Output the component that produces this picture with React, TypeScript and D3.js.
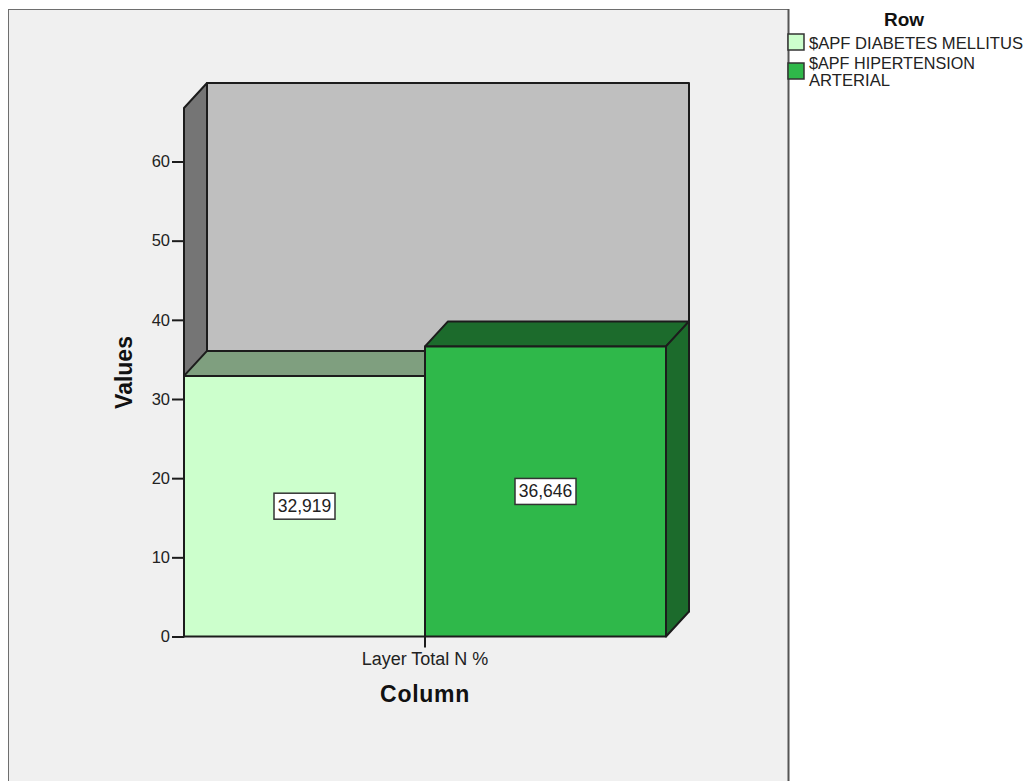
import React, { useEffect, useRef } from 'react';
import * as d3 from 'd3';

const seriesNames = ['$APF DIABETES MELLITUS', '$APF HIPERTENSION ARTERIAL'];
const legendLines = [['$APF DIABETES MELLITUS'], ['$APF HIPERTENSION', 'ARTERIAL']];
const seriesValues = [32.919, 36.646];
const valueLabels = ['32,919', '36,646'];
const yTicks = [0, 10, 20, 30, 40, 50, 60];
const categoryLabel = 'Layer Total N %';

const frontColors = ['#ccffcc', '#2fb84a'];
const topColors = ['#7f9f7f', '#1c6b2c'];
const sideColors = ['#7f9f7f', '#1c6b2c'];

const FONT = '"Liberation Sans", Arial, sans-serif';
const LINE = '#1c1c1c';

function App(): JSX.Element {
  const svgRef = useRef() as React.RefObject<SVGSVGElement>;

  useEffect(() => {
    const svg = d3.select(svgRef.current);
    svg.selectAll('*').remove();

    // chart panel
    svg.append('rect').attr('width', 1027).attr('height', 781).attr('fill', '#ffffff');
    svg.append('rect')
      .attr('x', 8.5).attr('y', 9.5).attr('width', 780).attr('height', 790)
      .attr('fill', '#f0f0f0').attr('stroke', '#6e6e6e').attr('stroke-width', 1);
    svg.append('line')
      .attr('x1', 788.5).attr('x2', 788.5).attr('y1', 9).attr('y2', 781)
      .attr('stroke', '#555555').attr('stroke-width', 2);

    const yScale = d3.scaleLinear().domain([0, 60]).range([636.5, 161.5]);
    const xScale = d3.scaleBand().domain(seriesNames).range([184, 666]);
    const dx = 23;
    const dy = -25;
    const top = 108;
    const bottom = yScale(0);
    const left = xScale.range()[0];
    const right = xScale.range()[1];

    const poly = (pts: number[][], fill: string) => {
      svg.append('path')
        .attr('d', d3.line()(pts as [number, number][]) + 'Z')
        .attr('fill', fill)
        .attr('stroke', LINE)
        .attr('stroke-width', 2)
        .attr('stroke-linejoin', 'round');
    };

    // back wall + left wall
    poly([[left + dx, top + dy], [right + dx, top + dy], [right + dx, bottom + dy], [left + dx, bottom + dy]], '#bfbfbf');
    poly([[left, top], [left + dx, top + dy], [left + dx, bottom + dy], [left, bottom]], '#757575');

    // bars, left one first so the taller one sits over it
    seriesNames.forEach((name, i) => {
      const x0 = xScale(name)!;
      const x1 = x0 + xScale.bandwidth();
      const y0 = yScale(seriesValues[i]);
      poly([[x0, y0], [x0 + dx, y0 + dy], [x1 + dx, y0 + dy], [x1, y0]], topColors[i]);
      poly([[x1, y0], [x1 + dx, y0 + dy], [x1 + dx, bottom + dy], [x1, bottom]], sideColors[i]);
      poly([[x0, y0], [x1, y0], [x1, bottom], [x0, bottom]], frontColors[i]);
    });

    // y axis
    const yAxis = svg.append('g')
      .attr('transform', `translate(${left},0)`)
      .call(d3.axisLeft(yScale).tickValues(yTicks).tickSize(12).tickSizeOuter(0).tickPadding(2));
    yAxis.select('.domain').remove();
    yAxis.selectAll('line').attr('stroke', LINE).attr('stroke-width', 2);
    yAxis.selectAll('text')
      .attr('font-family', FONT).attr('font-size', 16.5).attr('fill', '#222222');

    // category tick
    const xMid = (left + right) / 2;
    svg.append('line')
      .attr('x1', xMid).attr('x2', xMid).attr('y1', bottom).attr('y2', bottom + 11)
      .attr('stroke', LINE).attr('stroke-width', 2);
    svg.append('text')
      .attr('x', xMid).attr('y', 665)
      .attr('text-anchor', 'middle')
      .attr('font-family', FONT).attr('font-size', 18).attr('fill', '#222222')
      .text(categoryLabel);

    // axis titles
    svg.append('text')
      .attr('x', xMid).attr('y', 702)
      .attr('text-anchor', 'middle')
      .attr('font-family', FONT).attr('font-size', 23).attr('font-weight', 'bold')
      .attr('letter-spacing', 0.7).attr('fill', '#111111')
      .text('Column');
    svg.append('text')
      .attr('transform', 'translate(132,372.5) rotate(-90)')
      .attr('text-anchor', 'middle')
      .attr('font-family', FONT).attr('font-size', 23).attr('font-weight', 'bold')
      .attr('fill', '#111111')
      .text('Values');

    // value labels
    seriesNames.forEach((name, i) => {
      const cx = xScale(name)! + xScale.bandwidth() / 2;
      const cy = yScale(seriesValues[i] / 2);
      svg.append('rect')
        .attr('x', cx - 30.5).attr('y', cy - 13).attr('width', 61).attr('height', 26)
        .attr('fill', '#ffffff').attr('stroke', '#333333').attr('stroke-width', 1.5);
      svg.append('text')
        .attr('x', cx).attr('y', cy + 6)
        .attr('text-anchor', 'middle')
        .attr('font-family', FONT).attr('font-size', 17.5).attr('fill', '#222222')
        .text(valueLabels[i]);
    });

    // legend
    svg.append('text')
      .attr('x', 904).attr('y', 25.5)
      .attr('text-anchor', 'middle')
      .attr('font-family', FONT).attr('font-size', 19).attr('font-weight', 'bold')
      .attr('fill', '#111111')
      .text('Row');
    const legendY = d3.scalePoint().domain(seriesNames).range([42, 71]);
    const legendWidths = [[214], [166, 81]];
    seriesNames.forEach((name, i) => {
      const y = legendY(name)!;
      svg.append('rect')
        .attr('x', 788).attr('y', y - 8).attr('width', 16).attr('height', 16)
        .attr('fill', frontColors[i]).attr('stroke', '#333333').attr('stroke-width', 1.5);
      legendLines[i].forEach((line, j) => {
        svg.append('text')
          .attr('x', 809).attr('y', (i === 0 ? y + 6.5 : y - 2) + j * 17)
          .attr('font-family', FONT).attr('font-size', 16.6).attr('fill', '#222222')
          .attr('textLength', legendWidths[i][j]).attr('lengthAdjust', 'spacingAndGlyphs')
          .text(line);
      });
    });
  }, []);

  return (
    <svg
      ref={svgRef}
      width={1027}
      height={781}
      style={{ position: 'absolute', left: 0, top: 0 }}
    ></svg>
  );
}

export default App;
